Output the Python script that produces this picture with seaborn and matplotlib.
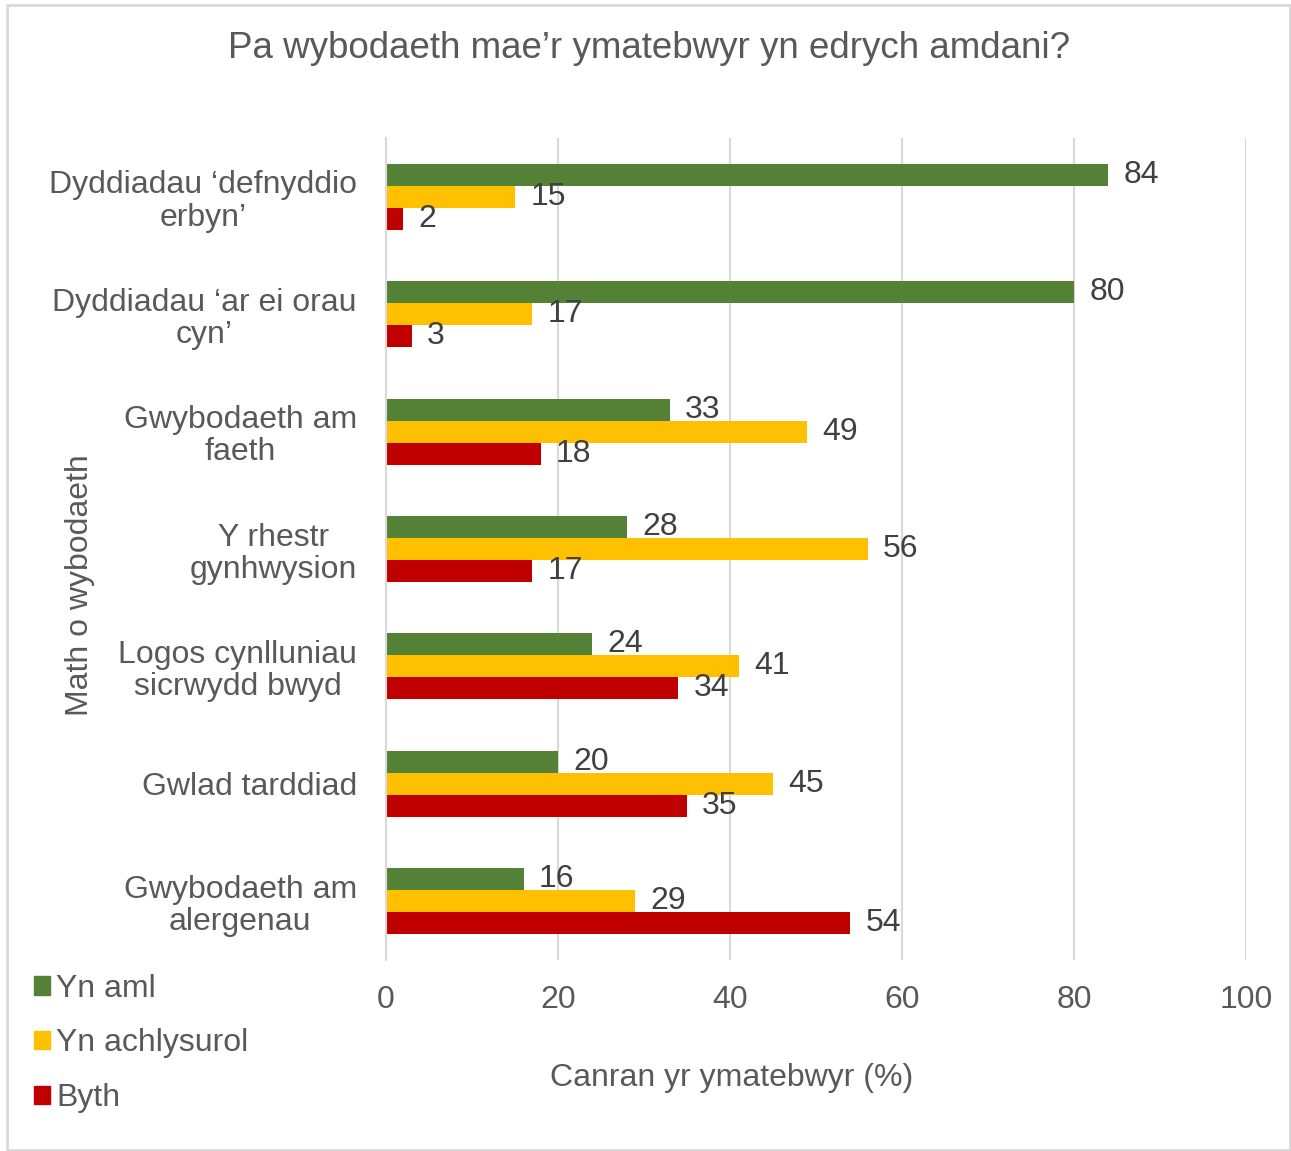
import matplotlib
matplotlib.use("Agg")
import matplotlib.pyplot as plt
import seaborn as sns
import pandas as pd
from matplotlib.patches import Rectangle

categories = [
    "Dyddiadau ‘defnyddio\nerbyn’",
    "Dyddiadau ‘ar ei orau\ncyn’",
    "Gwybodaeth am\nfaeth",
    "Y rhestr\ngynhwysion",
    "Logos cynlluniau\nsicrwydd bwyd",
    "Gwlad tarddiad",
    "Gwybodaeth am\nalergenau",
]
series = ["Yn aml", "Yn achlysurol", "Byth"]
yn_aml = [84, 80, 33, 28, 24, 20, 16]
yn_achlysurol = [15, 17, 49, 56, 41, 45, 29]
byth = [2, 3, 18, 17, 34, 35, 54]
colors = ["#538135", "#FFC000", "#C00000"]
x_ticks = [0, 20, 40, 60, 80, 100]

rows = []
for s, vals in zip(series, [yn_aml, yn_achlysurol, byth]):
    for c, v in zip(categories, vals):
        rows.append({"cat": c, "series": s, "val": v})
df = pd.DataFrame(rows)

sns.set_theme(style="white")
plt.rcParams["font.family"] = ["Liberation Sans", "DejaVu Sans"]

FS = 23
W, H = 1291, 1151
fig = plt.figure(figsize=(W / 100, H / 100), dpi=100)
ax = fig.add_axes([386 / W, 1 - 960 / H, (1246 - 386) / W, (960 - 138) / H])

sns.barplot(data=df, y="cat", x="val", hue="series", order=categories,
            hue_order=series, palette=colors, orient="h", width=0.5625,
            linewidth=0, saturation=1, ax=ax, legend=False)

ax.set_xlim(0, 100)
ax.set_xticks(x_ticks)
ax.set_xticklabels([str(t) for t in x_ticks])
ax.grid(axis="x", color="#D9D9D9", linewidth=1.5)
ax.set_axisbelow(True)
for sp in ["top", "right", "bottom"]:
    ax.spines[sp].set_visible(False)
ax.spines["left"].set_color("#D9D9D9")
ax.spines["left"].set_linewidth(1.5)
ax.set_xlabel("")
ax.set_ylabel("")
ax.tick_params(axis="x", length=0, pad=18, labelsize=FS, labelcolor="#595959")
ax.tick_params(axis="y", length=0, pad=21, labelsize=FS, labelcolor="#595959")
for lbl in ax.get_yticklabels():
    lbl.set_multialignment("center")
    lbl.set_linespacing(1.1)

for cont in ax.containers:
    ax.bar_label(cont, labels=[f"{int(v)}" for v in cont.datavalues],
                 padding=11, fontsize=FS, color="#404040")

fig.text(649 / W, 1 - 48 / H, "Pa wybodaeth mae’r ymatebwyr yn edrych amdani?",
         ha="center", va="center", fontsize=26.5, color="#595959")
fig.text(732 / W, 1 - 1078 / H, "Canran yr ymatebwyr (%)",
         ha="center", va="center", fontsize=FS, color="#595959")
fig.text(80 / W, 1 - 585 / H, "Math o wybodaeth", rotation=90,
         ha="center", va="center", fontsize=FS, color="#595959")

handles = [Rectangle((0, 0), 1, 1, color=c) for c in colors]
leg = fig.legend(handles, series, loc="upper left",
                 bbox_to_anchor=(21 / W, 1 - 961 / H), frameon=False,
                 fontsize=FS, handlelength=0.5, handleheight=0.5,
                 handletextpad=0.2, labelspacing=0.77, borderaxespad=0)
for t in leg.get_texts():
    t.set_color("#595959")

fig.patches.append(Rectangle((7 / W, 1 - 1150 / H), (1290 - 7) / W, (1150 - 5) / H,
                             transform=fig.transFigure, fill=False,
                             edgecolor="#D9D9D9", linewidth=2))

fig.savefig("out.png", dpi=100)
